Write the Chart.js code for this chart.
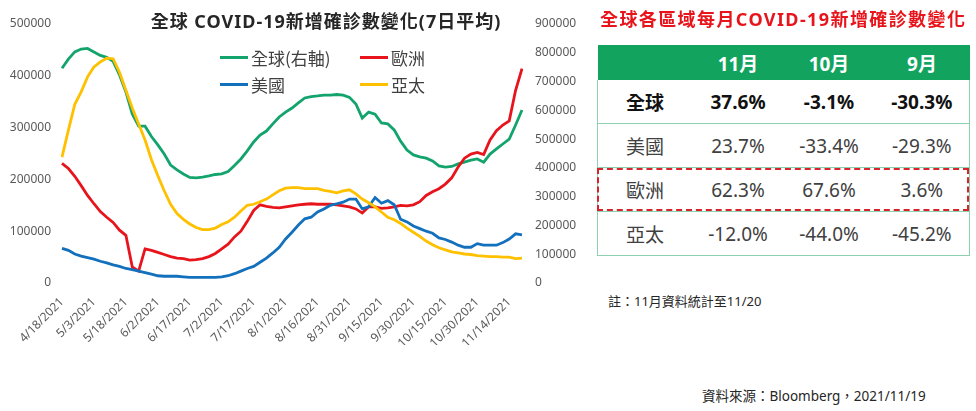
<!DOCTYPE html>
<html lang="zh-Hant">
<head>
<meta charset="utf-8">
<title>全球 COVID-19新增確診數變化</title>
<script src="https://cdn.jsdelivr.net/npm/chart.js@4.4.1/dist/chart.umd.min.js"></script>
<style>
  body { margin: 0; background: #fff; font-family: "Noto Sans", "Noto Sans CJK TC", sans-serif; }
  #page { position: relative; width: 976px; height: 411px; overflow: hidden; }
  #chartBox { position: absolute; left: 0; top: 0; width: 590px; height: 345px; }
  #chartTitle { position: absolute; left: 100px; top: 7px; width: 452px; text-align: center;
    font-size: 18px; font-weight: bold; color: #262626; white-space: nowrap; letter-spacing: 1px; }
  #legend { position: absolute; left: 220px; top: 45px; width: 240px; }
  .legend-item { position: absolute; display: flex; align-items: center; font-size: 17px; color: #404040;
    white-space: nowrap; font-family: "Noto Sans CJK TC", sans-serif; }
  .legend-item span.swatch { display: inline-block; width: 28px; height: 3px; margin-right: 3px; }
  #tableTitle { position: absolute; left: 600px; top: 5px; font-size: 18px; font-weight: bold; color: #e8141b;
    white-space: nowrap; letter-spacing: 1.4px; }
  #monthTable { position: absolute; left: 597px; top: 45px; width: 372px; border-collapse: collapse; table-layout: fixed; }
  #monthTable th { background: #12a45f; color: #fff; font-size: 19px; font-weight: bold; height: 35px; padding: 0; }
  #monthTable td { font-size: 19px; color: #404040; height: 43px; padding: 0; text-align: center;
    border-bottom: 1.5px solid #8fd0b0; }
  #monthTable td:first-child { text-align: left; padding-left: 28px; border-left: 1.5px solid #8fd0b0; }
  #monthTable td:last-child { border-right: 1.5px solid #8fd0b0; }
  #monthTable tr.bold td { font-weight: bold; color: #111; }
  #euroBox { position: absolute; left: 597px; top: 168px; width: 368px; height: 39px; border: 2px dashed #d9232a; }
  #note { position: absolute; left: 608px; top: 291px; font-size: 13px; color: #262626; white-space: nowrap; }
  #source { position: absolute; left: 702px; top: 385px; font-size: 13.5px; color: #262626; white-space: nowrap; }
</style>
</head>
<body>
<div id="page">
  <div id="chartBox"><canvas id="covidChart"></canvas></div>
  <div id="chartTitle">全球 COVID-19新增確診數變化(7日平均)</div>
  <div id="legend"></div>

  <div id="tableTitle">全球各區域每月COVID-19新增確診數變化</div>
  <table id="monthTable"></table>
  <div id="euroBox"></div>
  <div id="note">註：11月資料統計至11/20</div>
  <div id="source">資料來源：Bloomberg，2021/11/19</div>
</div>

<script>
// dates (every 3 days), 7-day average new cases
const dates = [
  "4/18/2021", "4/21/2021", "4/24/2021", "4/27/2021", "4/30/2021",
  "5/3/2021", "5/6/2021", "5/9/2021", "5/12/2021", "5/15/2021",
  "5/18/2021", "5/21/2021", "5/24/2021", "5/27/2021", "5/30/2021",
  "6/2/2021", "6/5/2021", "6/8/2021", "6/11/2021", "6/14/2021",
  "6/17/2021", "6/20/2021", "6/23/2021", "6/26/2021", "6/29/2021",
  "7/2/2021", "7/5/2021", "7/8/2021", "7/11/2021", "7/14/2021",
  "7/17/2021", "7/20/2021", "7/23/2021", "7/26/2021", "7/29/2021",
  "8/1/2021", "8/4/2021", "8/7/2021", "8/10/2021", "8/13/2021",
  "8/16/2021", "8/19/2021", "8/22/2021", "8/25/2021", "8/28/2021",
  "8/31/2021", "9/3/2021", "9/6/2021", "9/9/2021", "9/12/2021",
  "9/15/2021", "9/18/2021", "9/21/2021", "9/24/2021", "9/27/2021",
  "9/30/2021", "10/3/2021", "10/6/2021", "10/9/2021", "10/12/2021",
  "10/15/2021", "10/18/2021", "10/21/2021", "10/24/2021", "10/27/2021",
  "10/30/2021", "11/2/2021", "11/5/2021", "11/8/2021", "11/11/2021",
  "11/14/2021", "11/17/2021", "11/20/2021"
];

// labels shown on the x axis
const tickDates = [
  "4/18/2021", "5/3/2021", "5/18/2021", "6/2/2021", "6/17/2021", "7/2/2021", "7/17/2021",
  "8/1/2021", "8/16/2021", "8/31/2021", "9/15/2021", "9/30/2021", "10/15/2021", "10/30/2021", "11/14/2021"
];

// global, right axis
const globalCases = [
  746000, 778000, 803000, 813000, 815000, 803000, 791000, 784000, 770000, 723000,
  664000, 587000, 545000, 545000, 509000, 480000, 448000, 410000, 393000, 379000,
  367000, 365000, 368000, 372000, 377000, 379000, 387000, 408000, 431000, 459000,
  490000, 514000, 528000, 553000, 577000, 594000, 608000, 626000, 643000, 648000,
  650000, 653000, 653000, 655000, 653000, 645000, 622000, 573000, 594000, 587000,
  556000, 553000, 532000, 493000, 462000, 445000, 438000, 434000, 424000, 407000,
  403000, 405000, 414000, 420000, 427000, 431000, 420000, 448000, 466000, 483000,
  500000, 549000, 601000
];

const europeCases = [
  231000, 221000, 206000, 188000, 169000, 153000, 138000, 127000, 117000, 102000,
  92000, 31000, 23000, 66000, 63000, 59000, 55000, 51000, 48000, 47000,
  44000, 45000, 47000, 51000, 57000, 66000, 75000, 89000, 100000, 119000,
  140000, 151000, 148000, 146000, 145000, 147000, 149000, 151000, 152000, 153000,
  152000, 152000, 152000, 151000, 149000, 147000, 143000, 135000, 147000, 147000,
  144000, 145000, 147000, 150000, 149000, 151000, 157000, 169000, 176000, 182000,
  191000, 203000, 224000, 241000, 249000, 252000, 248000, 276000, 294000, 305000,
  313000, 372000, 414000
];

const usCases = [
  67000, 63000, 56000, 52000, 49000, 46000, 42000, 39000, 35000, 32000,
  28000, 26000, 23000, 20000, 17000, 14000, 13000, 13000, 13000, 12000,
  11000, 11000, 11000, 11000, 11000, 12000, 14000, 18000, 23000, 28000,
  32000, 40000, 48000, 58000, 69000, 85000, 98000, 112000, 124000, 127000,
  137000, 143000, 150000, 153000, 156000, 162000, 162000, 143000, 147000, 165000,
  154000, 159000, 151000, 123000, 118000, 110000, 105000, 100000, 96000, 87000,
  84000, 79000, 73000, 69000, 69000, 76000, 73000, 73000, 73000, 78000,
  85000, 95000, 93000
];

const asiaCases = [
  243000, 295000, 345000, 369000, 398000, 417000, 427000, 434000, 433000, 407000,
  372000, 338000, 307000, 276000, 238000, 207000, 178000, 152000, 134000, 123000,
  114000, 107000, 103000, 103000, 106000, 113000, 118000, 127000, 139000, 150000,
  152000, 157000, 162000, 170000, 178000, 183000, 184000, 184000, 182000, 182000,
  182000, 179000, 177000, 174000, 178000, 180000, 172000, 162000, 155000, 147000,
  137000, 127000, 122000, 115000, 106000, 98000, 90000, 81000, 74000, 68000,
  64000, 60000, 58000, 56000, 55000, 53000, 52000, 51000, 51000, 50000,
  50000, 47000, 48000
];

// monthly change table
const months = ["11月", "10月", "9月"];
const regions = ["全球", "美國", "歐洲", "亞太"];
const monthlyChange = [
  ["37.6%", "-3.1%", "-30.3%"],
  ["23.7%", "-33.4%", "-29.3%"],
  ["62.3%", "67.6%", "3.6%"],
  ["-12.0%", "-44.0%", "-45.2%"]
];

const tickFont = { family: "'Noto Sans', 'Noto Sans CJK TC', sans-serif", size: 12 };
const tickColor = "#595959";

const ctx = document.getElementById("covidChart").getContext("2d");
const covidChart = new Chart(ctx, {
  type: "line",
  data: {
    labels: dates,
    datasets: [
      { label: "全球(右軸)", data: globalCases, borderColor: "#12a46c", yAxisID: "yRight", order: 4 },
      { label: "歐洲", data: europeCases, borderColor: "#e8141b", yAxisID: "yLeft", order: 3 },
      { label: "美國", data: usCases, borderColor: "#1370bd", yAxisID: "yLeft", order: 2 },
      { label: "亞太", data: asiaCases, borderColor: "#ffc000", yAxisID: "yLeft", order: 1 },
    ],
  },
  options: {
    responsive: true,
    maintainAspectRatio: false,
    animation: false,
    layout: { padding: { top: 24, left: 0, right: 0, bottom: 0 } },
    elements: {
      point: { radius: 0 },
      line: { borderWidth: 2.8, tension: 0, fill: false },
    },
    plugins: {
      legend: { display: false },
      tooltip: { enabled: false },
    },
    scales: {
      x: {
        grid: { display: false, drawTicks: false },
        border: { display: false },
        ticks: {
          autoSkip: false,
          minRotation: 45,
          maxRotation: 45,
          padding: 12,
          color: tickColor,
          font: tickFont,
          callback: function (value) {
            const label = this.getLabelForValue(value);
            return tickDates.includes(label) ? label : "";
          },
        },
        afterFit: function (scale) { scale.height = 62; },
      },
      yLeft: {
        position: "left",
        min: 0,
        max: 500000,
        grid: { display: false, drawTicks: false },
        border: { display: false },
        ticks: { stepSize: 100000, padding: 11, color: tickColor, font: tickFont, callback: v => String(v) },
        afterFit: function (scale) { scale.width = 62; },
      },
      yRight: {
        position: "right",
        min: 0,
        max: 900000,
        grid: { display: false, drawTicks: false },
        border: { display: false },
        ticks: { stepSize: 100000, padding: 13, color: tickColor, font: tickFont, callback: v => String(v) },
        afterFit: function (scale) { scale.width = 68; },
      },
    },
  },
});

// legend in two columns, inside the plot
function buildLegend() {
  const legendDiv = document.getElementById("legend");
  covidChart.data.datasets.forEach(function (ds, i) {
    const item = document.createElement("div");
    item.className = "legend-item";
    item.style.left = (i % 2) * 140 + "px";
    item.style.top = Math.floor(i / 2) * 27 + "px";
    item.innerHTML = '<span class="swatch" style="background:' + ds.borderColor + '"></span>' + ds.label;
    legendDiv.appendChild(item);
  });
}

function buildTable() {
  const table = document.getElementById("monthTable");
  let html = '<colgroup><col style="width:95px"><col style="width:91px"><col style="width:91px"><col style="width:95px"></colgroup>';
  html += "<tr><th></th>" + months.map(m => "<th>" + m + "</th>").join("") + "</tr>";
  regions.forEach(function (r, i) {
    html += '<tr class="' + (i === 0 ? "bold" : "") + '"><td>' + r + "</td>" +
      monthlyChange[i].map(v => "<td>" + v + "</td>").join("") + "</tr>";
  });
  table.innerHTML = html;
}

buildLegend();
buildTable();
</script>
</body>
</html>
